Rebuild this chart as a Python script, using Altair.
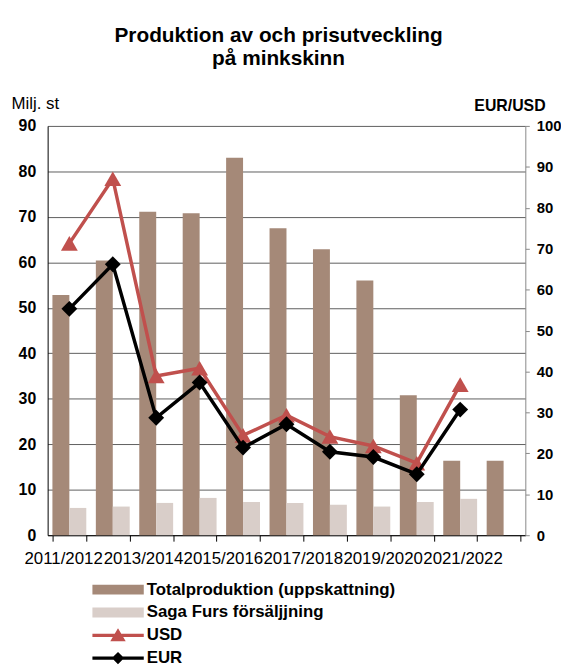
import altair as alt
import pandas as pd

seasons = ["2011/2012", "2012/2013", "2013/2014", "2014/2015", "2015/2016", "2016/2017",
           "2017/2018", "2018/2019", "2019/2020", "2020/2021", "2021/2022"]
shown_labels = seasons[::2]
total = [52.8, 60.4, 71.1, 70.8, 83.0, 67.5, 62.9, 56.0, 30.8, 16.4, 16.4]
saga = [6.0, 6.3, 7.1, 8.2, 7.3, 7.1, 6.7, 6.3, 7.3, 8.0, None]
usd = [71.3, 87.1, 38.9, 40.8, 24.4, 29.3, 24.1, 21.8, 17.6, 36.8, None]
eur = [55.3, 66.2, 28.7, 37.3, 21.4, 27.1, 20.4, 19.1, 14.9, 30.7, None]

s_total = "Totalproduktion (uppskattning)"
s_saga = "Saga Furs försäljjning"
s_usd = "USD"
s_eur = "EUR"
legend_names = [s_total, s_saga, s_usd, s_eur]

c_total = "#A58978"
c_saga = "#D9CEC9"
c_usd = "#C0504D"
c_eur = "#000000"
legend_colors = [c_total, c_saga, c_usd, c_eur]

total_df = pd.DataFrame([{"season": s, "series": s_total, "value": v} for s, v in zip(seasons, total) if v is not None])
saga_df = pd.DataFrame([{"season": s, "series": s_saga, "value": v} for s, v in zip(seasons, saga) if v is not None])
usd_df = pd.DataFrame([{"season": s, "value": v} for s, v in zip(seasons, usd) if v is not None])
eur_df = pd.DataFrame([{"season": s, "value": v} for s, v in zip(seasons, eur) if v is not None])
legend_df = pd.DataFrame({"series": legend_names})

label_expr = "indexof([" + ",".join("'" + s + "'" for s in shown_labels) + "], datum.value) >= 0 ? datum.label : ''"
# the labels sit packed side by side, slightly left of their categories
label_offset = {
    "condition": [{"test": f"datum.value == '{s}'", "value": round(-6.3 - 7.03 * i, 1)}
                  for i, s in enumerate(shown_labels)],
    "value": 0,
}

x_enc = alt.X(
    "season:N",
    sort=seasons,
    scale=alt.Scale(domain=seasons, paddingInner=0.22, paddingOuter=0.11),
    axis=alt.Axis(
        title=None, labelAngle=0, labelExpr=label_expr, labelOverlap=False,
        labelFontSize=17, labelFont="Liberation Sans", labelColor="#000000",
        labelPadding=10, labelOffset=label_offset, tickBand="extent", tickSize=6,
        tickColor="#000000", domainColor="#000000", grid=False,
    ),
)
x_off = alt.XOffset("series:N", sort=[s_total, s_saga],
                    scale=alt.Scale(domain=[s_total, s_saga], paddingInner=0))

y_left = alt.Y(
    "value:Q",
    scale=alt.Scale(domain=[0, 90], nice=False),
    axis=alt.Axis(
        title="Milj. st", titleAngle=0, titleX=-37, titleY=-23, titleAlign="left",
        titleBaseline="middle", titleFontSize=17, titleFontWeight="normal",
        titleFont="Liberation Sans", titleColor="#000000",
        values=list(range(0, 91, 10)), labelFontSize=16, labelFontWeight="bold",
        labelFont="Liberation Sans", labelColor="#000000",
        ticks=False, labelPadding=12, domainColor="#000000",
        grid=True, gridColor="#5e5e5e", gridWidth=1,
    ),
)

bars_total = alt.Chart(total_df).mark_bar(color=c_total).encode(x=x_enc, xOffset=x_off, y=y_left)
bars_saga = alt.Chart(saga_df).mark_bar(color=c_saga).encode(x=x_enc, xOffset=x_off, y="value:Q")
bars = alt.layer(bars_total, bars_saga)

y_right = alt.Y(
    "value:Q",
    scale=alt.Scale(domain=[0, 100], nice=False),
    axis=alt.Axis(
        orient="right", title="EUR/USD", titleAngle=0, titleX=20, titleY=-21,
        titleAlign="right", titleBaseline="middle", titleFontSize=16,
        titleFontWeight="bold", titleFont="Liberation Sans", titleColor="#000000",
        values=list(range(0, 101, 10)), labelFontSize=15, labelFontWeight="bold",
        labelFont="Liberation Sans", labelColor="#000000",
        tickSize=4, tickColor="#888888", domainColor="#888888", labelPadding=7, grid=False,
    ),
)

x_line = alt.X("season:N", sort=seasons)

usd_line = alt.Chart(usd_df).mark_line(color=c_usd, strokeWidth=3.5).encode(x=x_line, y=y_right)
usd_pts = alt.Chart(usd_df).mark_point(shape="triangle-up", filled=True, size=289, color=c_usd, opacity=1).encode(x=x_line, y="value:Q")
eur_line = alt.Chart(eur_df).mark_line(color=c_eur, strokeWidth=3.5).encode(x=x_line, y="value:Q")
eur_pts = alt.Chart(eur_df).mark_point(shape="diamond", filled=True, size=256, color=c_eur, opacity=1).encode(x=x_line, y="value:Q")

lines = alt.layer(usd_line, usd_pts, eur_line, eur_pts)

bar_swatch = "M-1,-0.19H1V0.19H-1Z"
usd_sym = "M-1,-0.065H1V0.065H-1Z M0,-0.27L0.3,0.23L-0.3,0.23Z"
eur_sym = "M-1,-0.065H1V0.065H-1Z M0,-0.24L0.24,0L0,0.24L-0.24,0Z"

legend_layer = alt.Chart(legend_df).transform_filter("false").mark_point(filled=True, opacity=1).encode(
    color=alt.Color(
        "series:N", scale=alt.Scale(domain=legend_names, range=legend_colors),
        legend=alt.Legend(title=None, symbolFillColor="#000000"),
    ),
    shape=alt.Shape(
        "series:N",
        scale=alt.Scale(domain=legend_names, range=[bar_swatch, bar_swatch, usd_sym, eur_sym]),
        legend=alt.Legend(title=None, symbolFillColor="#000000"),
    ),
)

chart = alt.layer(bars, lines, legend_layer).resolve_scale(y="independent").properties(
    width=482,
    height=413,
    autosize=alt.AutoSizeParams(type="none"),
    padding={"left": 40, "top": 116, "right": 36, "bottom": 130},
    title=alt.TitleParams(
        text=["Produktion av och prisutveckling", "på minkskinn"],
        anchor="middle", fontSize=21, fontWeight="bold", font="Liberation Sans",
        color="#000000", lineHeight=23.5, offset=25, dx=-8,
    ),
).configure_view(stroke=None).configure_legend(
    orient="none", legendX=45, legendY=459, symbolSize=2704, clipHeight=18,
    labelFontSize=17, labelFontWeight="bold", labelFont="Liberation Sans",
    labelColor="#000000", labelOffset=3, rowPadding=5.0, padding=0,
    symbolStrokeWidth=0, labelLimit=400,
)

chart.save("out.html", embed_options={"renderer": "svg", "actions": False})
